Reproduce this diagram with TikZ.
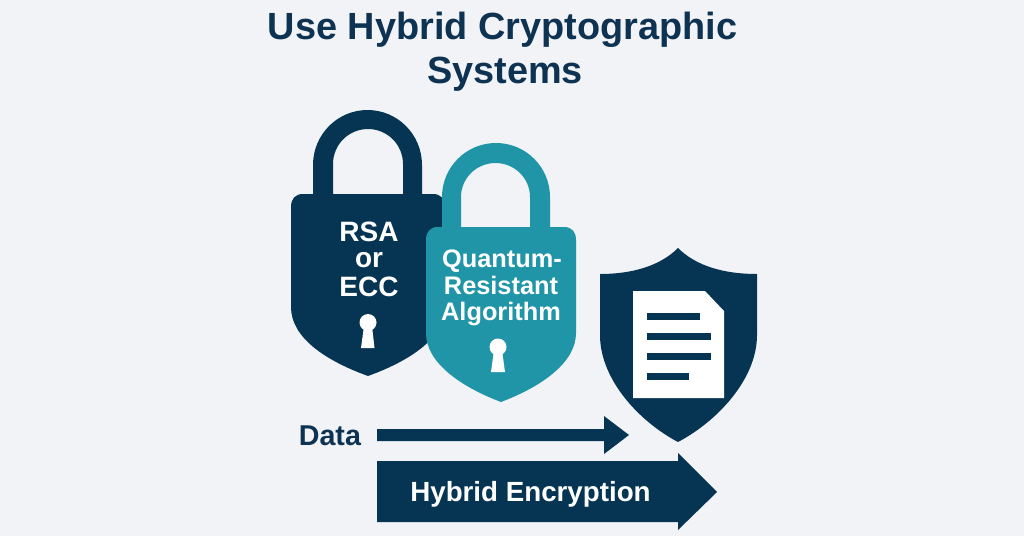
\documentclass[tikz,border=0pt]{standalone}
\usepackage{fontspec}
\setmainfont{Liberation Sans}
\definecolor{bgc}{HTML}{F1F3F6}
\definecolor{navy}{HTML}{053552}
\definecolor{teal2}{HTML}{2095A8}
\definecolor{titlec}{HTML}{0E3352}
\tikzset{
  lbl/.style={inner sep=0pt,anchor=base,align=center,font=\fontsize{#1}{#1}\selectfont},
  wtxt/.style={text=white},
  ntxt/.style={text=titlec}
}
\begin{document}
\begin{tikzpicture}[x=0.75pt,y=-0.75pt]
\useasboundingbox (0,0) rectangle (1024,536);
\fill[bgc] (0,0) rectangle (1024,536);
% title
\node[lbl=28.4,ntxt] (t1) at (502.5,39) {\textbf{Use Hybrid Cryptographic}};
\node[lbl=28.4,ntxt] (t2) at (505,83) {\textbf{Systems}};
% dark lock
\fill[navy,even odd rule] (313,200) -- (313,165) arc[start angle=180,end angle=360,x radius=54.5,y radius=55] -- (422,200) -- cycle
  (333,200) -- (333,164) arc[start angle=180,end angle=360,x radius=35,y radius=35] -- (403,200) -- cycle;
\fill[navy] (303,194) -- (433,194) .. controls (441,194) and (445,199) .. (445,207) -- (445,307)
  .. controls (445,337) and (412,360) .. (368,376)
  .. controls (324,360) and (291,337) .. (291,307) -- (291,207)
  .. controls (291,199) and (295,194) .. (303,194) -- cycle;
% teal lock
\fill[teal2,even odd rule] (442,232) -- (442,197) arc[start angle=180,end angle=360,x radius=54,y radius=54] -- (550,232) -- cycle
  (461,227) -- (461,197) arc[start angle=180,end angle=360,x radius=34.5,y radius=34] -- (530,227) -- cycle;
\fill[teal2] (438,227) -- (564,227) .. controls (572,227) and (576,232) .. (576,240) -- (576,333)
  .. controls (576,362) and (543,386) .. (501,402)
  .. controls (459,386) and (426,362) .. (426,333) -- (426,240)
  .. controls (426,232) and (430,227) .. (438,227) -- cycle;
% keyholes
\fill[white] (368,322.5) ellipse[x radius=8.5,y radius=8.5];
\fill[white] (364,326) -- (372,326) -- (374.5,348) -- (361,348) -- cycle;
\fill[white] (498,347) ellipse[x radius=8.5,y radius=8.5];
\fill[white] (494,350) -- (502,350) -- (505,372) -- (491,372) -- cycle;
% lock labels
\node[lbl=21,wtxt] (rsa) at (369,241) {\textbf{RSA}};
\node[lbl=21,wtxt] (or) at (369,267) {\textbf{or}};
\node[lbl=21,wtxt] (ecc) at (369,296) {\textbf{ECC}};
\node[lbl=19,wtxt] (q) at (502,267) {\textbf{Quantum-}};
\node[lbl=19,wtxt] (r) at (501,294) {\textbf{Resistant}};
\node[lbl=19,wtxt] (a) at (501,320) {\textbf{Algorithm}};
% shield
\fill[navy] (678,248) .. controls (660,266) and (632,274) .. (600,274) -- (600,335)
  .. controls (600,380) and (640,422) .. (678,442)
  .. controls (716,422) and (757,380) .. (757,335) -- (757,274)
  .. controls (724,274) and (696,266) .. (678,248) -- cycle;
\fill[white] (633,291) -- (705,291) -- (724,311) -- (724,398) -- (633,398) -- cycle;
\fill[navy] (647,313) rectangle (700,320);
\fill[navy] (647,333) rectangle (711,340);
\fill[navy] (647,353) rectangle (711,360);
\fill[navy] (647,373) rectangle (689,380);
% arrows
\node[lbl=21.5,ntxt] (data) at (330,445) {\textbf{Data}};
\fill[navy] (377,429) -- (604,429) -- (604,416) -- (629,435) -- (604,454) -- (604,441) -- (377,441) -- cycle;
\fill[navy] (377,461) -- (678,461) -- (678,453) -- (717,492) -- (678,530) -- (678,522) -- (377,522) -- cycle;
\node[lbl=20.8,wtxt] (he) at (530.5,501) {\textbf{Hybrid Encryption}};
\end{tikzpicture}
\end{document}
